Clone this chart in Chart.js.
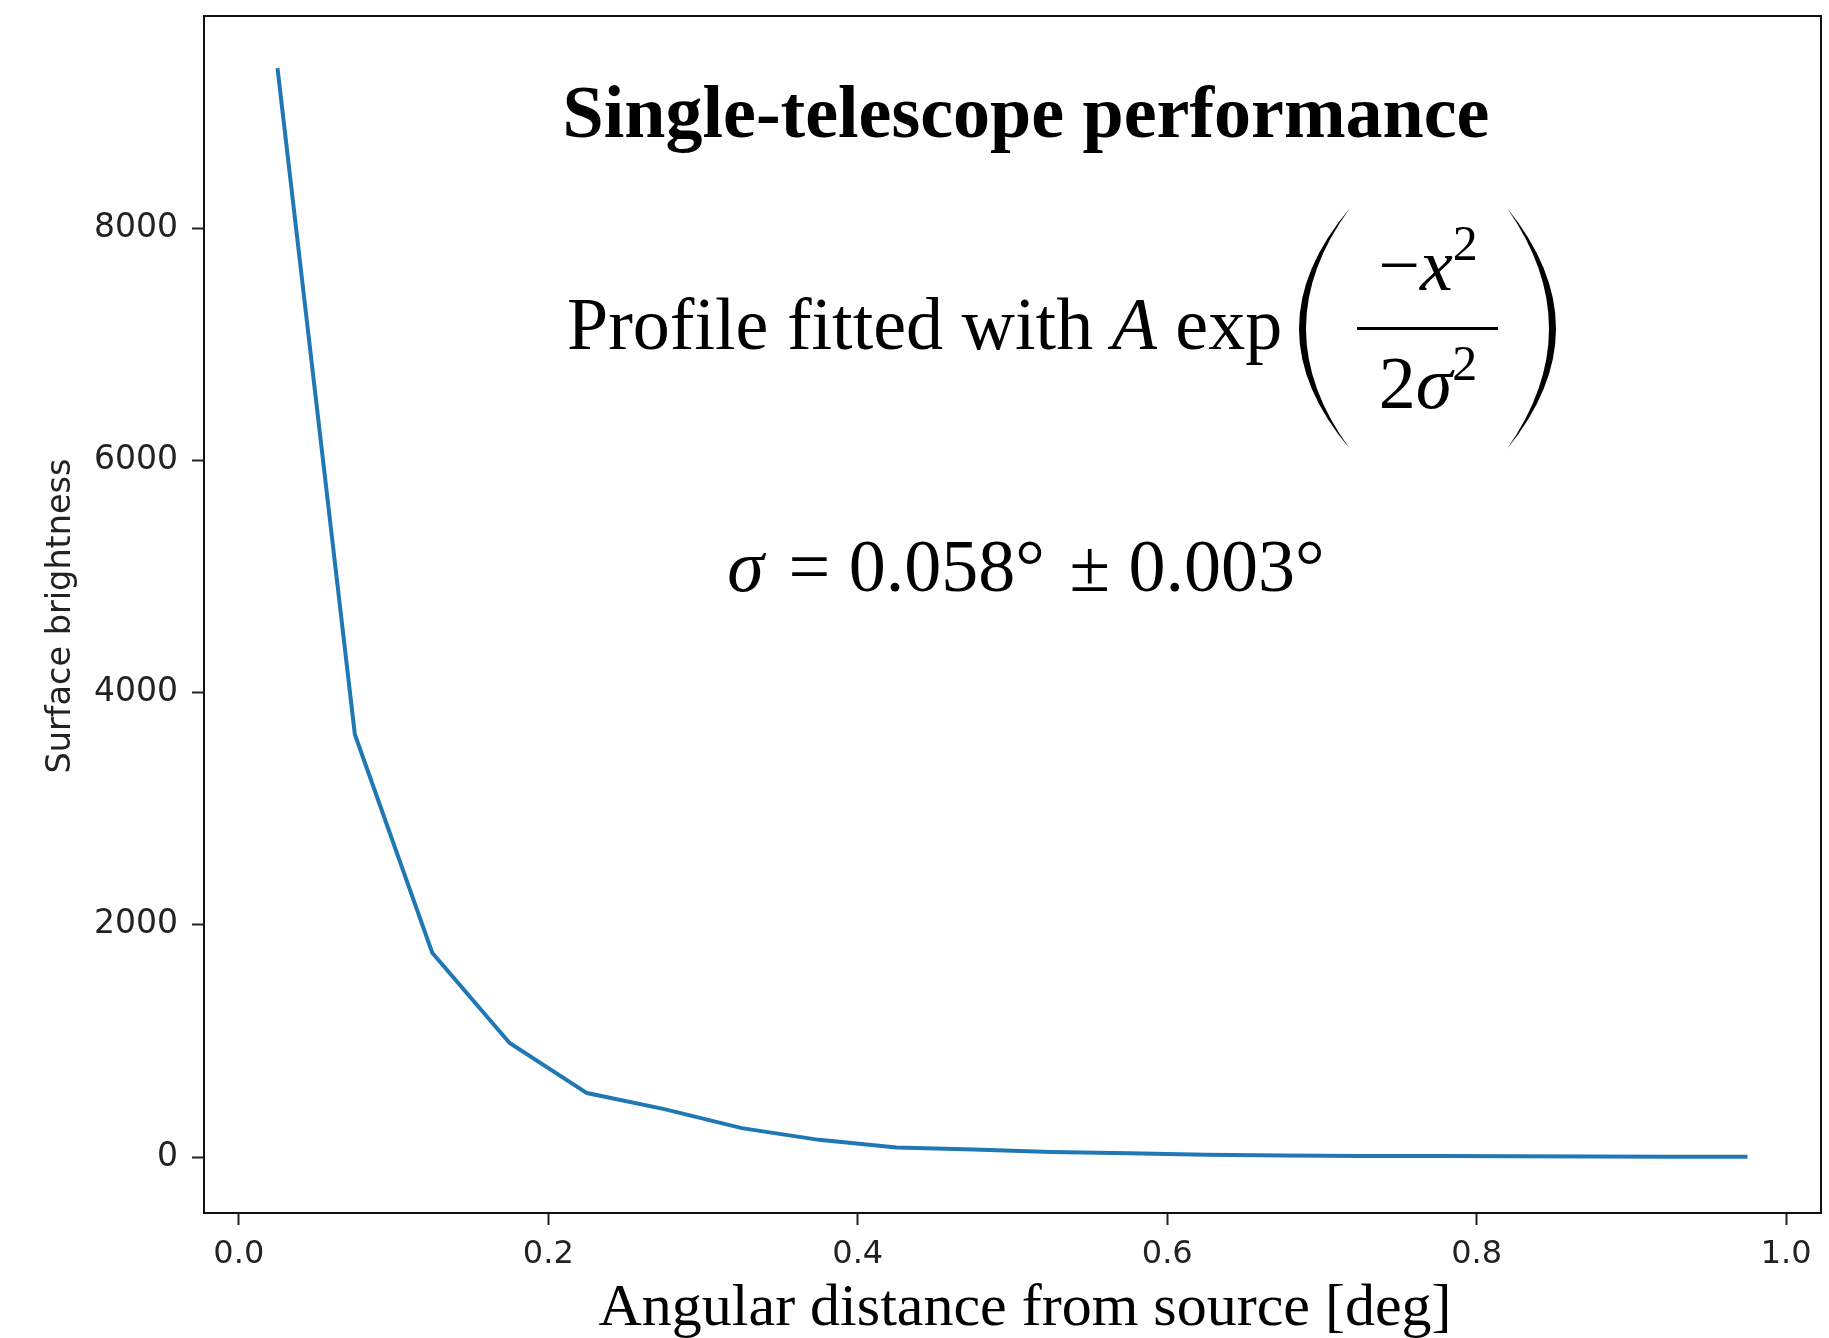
<!DOCTYPE html>
<html>
<head>
<meta charset="utf-8">
<script src="https://cdn.jsdelivr.net/npm/chart.js@4.4.1/dist/chart.umd.min.js"></script>
<style>
  html, body { margin: 0; padding: 0; background: #fff; }
  canvas { display: block; }
</style>
</head>
<body>
<canvas id="profile" width="1829" height="1338"></canvas>
<script>
// radial profile
const distances = [0.025, 0.075, 0.125, 0.175, 0.225, 0.275, 0.325, 0.375, 0.425, 0.475,
                   0.525, 0.575, 0.625, 0.675, 0.725, 0.775, 0.825, 0.875, 0.925, 0.975];
const brightness = [9380, 3640, 1760, 982, 551, 413, 249, 148, 82, 64,
                    44, 33, 19, 13, 10, 8, 6, 5, 3, 2];
const xTickValues = [0, 0.2, 0.4, 0.6, 0.8, 1.0];
const yTickValues = [0, 2000, 4000, 6000, 8000];
const xRange = [-0.0225, 1.0225];
const yRange = [-482, 9829];

const serif = '"Liberation Serif", "DejaVu Serif", serif';
const sans = '"DejaVu Sans", sans-serif';

// draws a run of [text, font, dy] pieces starting at x
function drawRun(ctx, parts, x, y) {
  parts.forEach(p => {
    ctx.font = p[1];
    ctx.fillText(p[0], x, y - (p[2] || 0));
    x += ctx.measureText(p[0]).width;
  });
  return x;
}
function runWidth(ctx, parts) {
  let w = 0;
  parts.forEach(p => { ctx.font = p[1]; w += ctx.measureText(p[0]).width; });
  return w;
}

function paren(ctx, tipX, top, bottom, bulge, thick) {
  const mid = (top + bottom) / 2;
  const c1 = 2 * bulge - tipX;
  const c2 = 2 * (bulge + (tipX < bulge ? -thick : thick)) - tipX;
  ctx.beginPath();
  ctx.moveTo(tipX, top);
  ctx.quadraticCurveTo(c1, mid, tipX, bottom);
  ctx.quadraticCurveTo(c2, mid, tipX, top);
  ctx.fill();
}

const annotations = {
  id: 'annotations',
  afterDraw(chart) {
    const {ctx, chartArea: {left, top, right, bottom}} = chart;
    ctx.save();
    // frame
    ctx.strokeStyle = '#111';
    ctx.lineWidth = 2;
    ctx.strokeRect(left, top, right - left, bottom - top);

    ctx.fillStyle = '#000';
    ctx.textBaseline = 'alphabetic';

    // title
    ctx.textAlign = 'center';
    ctx.font = 'bold 74px ' + serif;
    ctx.fillText('Single-telescope performance', 1026, 137);

    // formula line
    ctx.textAlign = 'left';
    const reg = '74px ' + serif;
    const ita = 'italic 74px ' + serif;
    const sup = '50px ' + serif;
    drawRun(ctx, [['Profile fitted with ', reg], ['A', ita], [' exp', reg]], 567, 349);

    const fracX = 1428;
    const num = [['\u2212', reg], ['x', ita], ['2', sup, 30]];
    drawRun(ctx, num, fracX - runWidth(ctx, num) / 2, 290);
    const den = [['2', reg], ['\u03c3', ita], ['2', sup, 28]];
    drawRun(ctx, den, fracX - runWidth(ctx, den) / 2, 408);
    ctx.fillRect(1357, 327, 141, 3);

    paren(ctx, 1350, 208, 449, 1299, 7);
    paren(ctx, 1507, 208, 449, 1556, 7);

    // sigma result
    const sig = [['\u03c3', ita], [' \u200a= 0.058\u00b0 \u200a\u00b1 0.003\u00b0', reg]];
    drawRun(ctx, sig, 1026 - runWidth(ctx, sig) / 2, 591);

    // axis titles
    ctx.textAlign = 'center';
    ctx.font = '60px ' + serif;
    ctx.fillText('Angular distance from source [deg]', 1025, 1325);

    ctx.translate(70, 616);
    ctx.rotate(-Math.PI / 2);
    ctx.font = '33.5px ' + sans;
    ctx.fillStyle = '#222';
    ctx.fillText('Surface brightness', 0, 0);
    ctx.restore();
  }
};

const ctx = document.getElementById('profile').getContext('2d');

new Chart(ctx, {
  type: 'line',
  data: {
    datasets: [{
      data: distances.map((d, i) => ({x: d, y: brightness[i]})),
      borderColor: '#1f77b4',
      borderWidth: 4,
      pointRadius: 0,
      tension: 0,
      fill: false
    }]
  },
  options: {
    responsive: false,
    animation: false,
    devicePixelRatio: 1,
    layout: {padding: {left: 0, top: 16, right: 8, bottom: 0}},
    plugins: {legend: {display: false}, tooltip: {enabled: false}},
    scales: {
      x: {
        type: 'linear',
        min: xRange[0],
        max: xRange[1],
        afterBuildTicks: s => { s.ticks = xTickValues.map(v => ({value: v})); },
        afterFit: s => { s.height = 125; s.paddingLeft = 0; s.paddingRight = 0; },
        grid: {drawOnChartArea: false, tickLength: 12, tickWidth: 2, tickColor: '#222'},
        border: {display: false},
        ticks: {
          padding: 10,
          color: '#222',
          font: {family: sans, size: 32},
          maxRotation: 0,
          callback: v => v.toFixed(1)
        }
      },
      y: {
        type: 'linear',
        min: yRange[0],
        max: yRange[1],
        afterBuildTicks: s => { s.ticks = yTickValues.map(v => ({value: v})); },
        afterFit: s => { s.width = 204; s.paddingTop = 0; s.paddingBottom = 0; },
        grid: {drawOnChartArea: false, tickLength: 12, tickWidth: 2, tickColor: '#222'},
        border: {display: false},
        ticks: {
          padding: 14,
          color: '#222',
          font: {family: sans, size: 33},
          callback: v => String(v)
        }
      }
    }
  },
  plugins: [annotations]
});
</script>
</body>
</html>
